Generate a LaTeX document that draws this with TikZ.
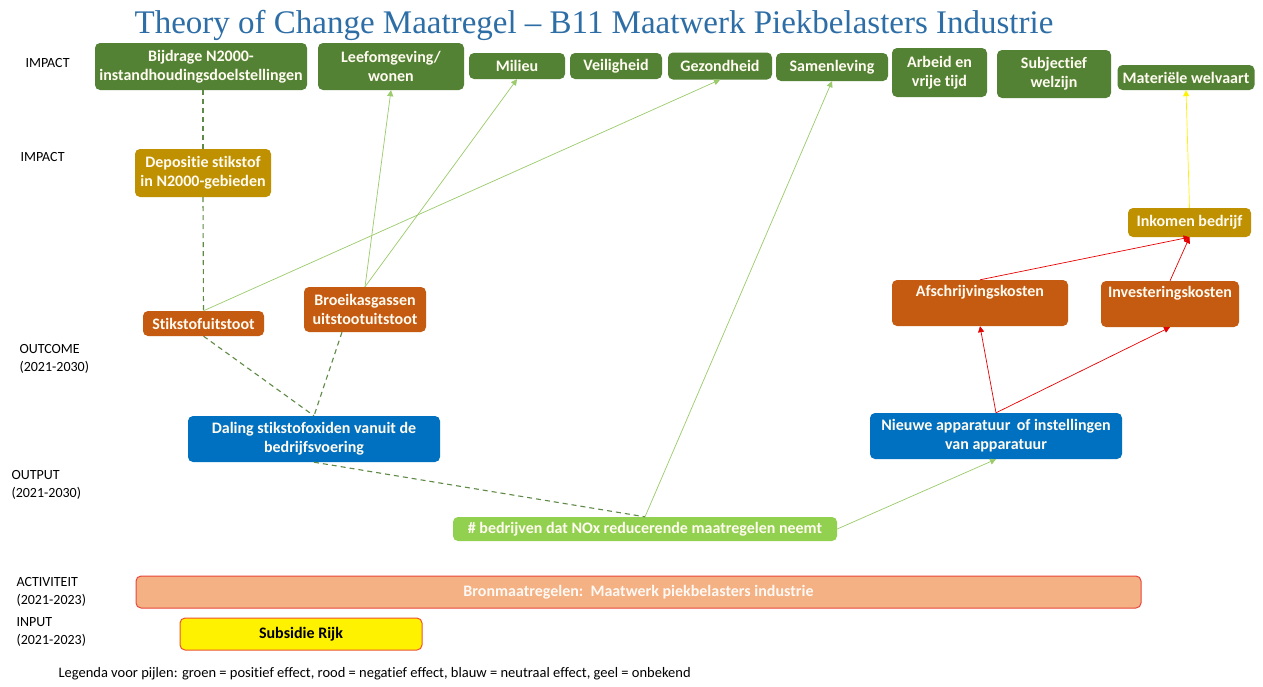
\documentclass[tikz,border=0pt]{standalone}
\usepackage{fontspec}
\setmainfont{Carlito}[Ligatures=NoCommon]
\newfontfamily\titlefont{Liberation Serif}
\usetikzlibrary{arrows.meta}
\definecolor{dgreen}{HTML}{548235}
\definecolor{gold}{HTML}{BF9000}
\definecolor{orng}{HTML}{C55A11}
\definecolor{blu}{HTML}{0070C0}
\definecolor{lgreen}{HTML}{92D050}
\definecolor{salmon}{HTML}{F4B183}
\definecolor{redb}{HTML}{E8463C}
\definecolor{titleblue}{HTML}{2E6EA6}
\definecolor{boxtext}{HTML}{FFFBF0}
\definecolor{arrgreen}{HTML}{9BCB6A}
\definecolor{dashgreen}{HTML}{5E8A45}
\tikzset{
  tocbox/.style={rounded corners=5pt, inner sep=0pt, align=center, text=boxtext,
    font=\fontsize{16}{19}\selectfont\bfseries},
  gbox/.style={tocbox, fill=dgreen},
  ybox/.style={tocbox, fill=gold},
  obox/.style={tocbox, fill=orng},
  bbox/.style={tocbox, fill=blu},
  sidelab/.style={anchor=west, align=left, font=\fontsize{14}{17.5}\selectfont},
  posarrow/.style={draw=arrgreen, line width=0.7pt, -{Triangle[width=6pt,length=6pt]}},
  negarrow/.style={draw=red!90!black, line width=0.7pt, -{Triangle[width=6pt,length=6pt]}},
  unkarrow/.style={draw=yellow, line width=0.7pt, -{Triangle[width=6pt,length=6pt]}},
  dashlink/.style={draw=dashgreen, line width=1.1pt, dash pattern=on 5pt off 4pt},
}
\begin{document}
\begin{tikzpicture}[x=1pt,y=-1pt]
\useasboundingbox[fill=white] (0,0) rectangle (1263,686);
% title
\node[font=\titlefont\fontsize{33}{38}\selectfont, text=titleblue, anchor=base] (title) at (594,33) {Theory of Change Maatregel – B11 Maatwerk Piekbelasters Industrie};
% left labels
\node[sidelab] (l1) at (22,63) {IMPACT};
\node[sidelab] (l2) at (17,157) {IMPACT};
\node[sidelab] (l3) at (16,359) {OUTCOME\\(2021-2030)};
\node[sidelab] (l4) at (8,485) {OUTPUT\\(2021-2030)};
\node[sidelab] (l5) at (13,592) {ACTIVITEIT\\(2021-2023)};
\node[sidelab] (l6) at (13,632) {INPUT\\(2021-2023)};
% impact row
\node[gbox, minimum width=212pt, minimum height=47pt] (bij) at (201,66.5) {Bijdrage N2000-\\instandhoudingsdoelstellingen};
\node[gbox, minimum width=146pt, minimum height=47pt] (leef) at (391,66.5) {Leefomgeving/\\wonen};
\node[gbox, minimum width=96pt, minimum height=26pt] (mil) at (517,66) {Milieu};
\node[gbox, minimum width=92pt, minimum height=26pt] (vei) at (616,66) {Veiligheid};
\node[gbox, minimum width=104pt, minimum height=27pt] (gez) at (720,66) {Gezondheid};
\node[gbox, minimum width=112pt, minimum height=28pt] (sam) at (832,67) {Samenleving};
\node[gbox, minimum width=95pt, minimum height=49pt] (arb) at (939.5,72.5) {Arbeid en\\vrije tijd};
\node[gbox, minimum width=114pt, minimum height=48pt] (sub) at (1054,74) {Subjectief\\welzijn};
\node[gbox, minimum width=137pt, minimum height=25pt] (mat) at (1186,77.5) {Materiële welvaart};
% second impact row
\node[ybox, minimum width=136pt, minimum height=48pt] (dep) at (203,173) {Depositie stikstof\\in N2000-gebieden};
\node[ybox, minimum width=123pt, minimum height=29pt] (ink) at (1189.5,222.5) {Inkomen bedrijf};
% outcome
\node[obox, minimum width=121pt, minimum height=25pt] (stik) at (203.5,323.5) {Stikstofuitstoot};
\node[obox, minimum width=122pt, minimum height=45pt] (bro) at (365,309.5) {Broeikasgassen\\uitstootuitstoot};
\node[obox, minimum width=176pt, minimum height=46pt] (afs) at (980,303) {Afschrijvingskosten\\\strut};
\node[obox, minimum width=138pt, minimum height=46pt] (inv) at (1170,304) {Investeringskosten\\\strut};
% output
\node[bbox, minimum width=252pt, minimum height=46pt] (dal) at (314,439) {Daling stikstofoxiden vanuit de\\bedrijfsvoering};
\node[bbox, minimum width=252pt, minimum height=46pt] (nie) at (996,436) {Nieuwe apparatuur\, of instellingen\\van apparatuur};
\node[tocbox, fill=lgreen, minimum width=384pt, minimum height=24pt] (bed) at (645,529) {\# bedrijven dat NOx reducerende maatregelen neemt};
% activity and input
\node[tocbox, fill=salmon, draw=redb, line width=1pt, minimum width=1005pt, minimum height=32pt, text=white!92!salmon] (act) at (638.5,592) {Bronmaatregelen:\ \ Maatwerk piekbelasters industrie};
\node[tocbox, fill=yellow, draw=redb!80!orange, line width=1pt, minimum width=242pt, minimum height=32pt, text=black] (rijk) at (301,634) {Subsidie Rijk};
% legend
\node[sidelab, font=\fontsize{14.5}{17}\selectfont] (leg) at (55,674) {Legenda voor pijlen: groen = positief effect, rood = negatief effect, blauw = neutraal effect, geel = onbekend};
% dashed links
\draw[dashlink] (dep.north |- bij.south) -- (dep.north);
\draw[dashlink] (dep.south) -- (stik.north);
\draw[dashlink] (stik.south) -- (dal.north);
\draw[dashlink] ([xshift=-23pt]bro.south) -- (dal.north);
\draw[dashlink] (dal.south) -- (bed.north);
% positive links
\draw[posarrow] (stik.north) -- (gez.south);
\draw[posarrow] (bro.north) -- (leef.south);
\draw[posarrow] (bro.north) -- (mil.south);
\draw[posarrow] (bed.north) -- (sam.south);
\draw[posarrow] (bed.east) -- (nie.south);
% negative links
\draw[negarrow] (nie.north) -- (afs.south);
\draw[negarrow] (nie.north) -- (inv.south);
\draw[negarrow] (afs.north) -- (ink.south);
\draw[negarrow] (inv.north) -- (ink.south);
% unknown
\draw[unkarrow] (ink.north) -- (mat.south);
\end{tikzpicture}
\end{document}
